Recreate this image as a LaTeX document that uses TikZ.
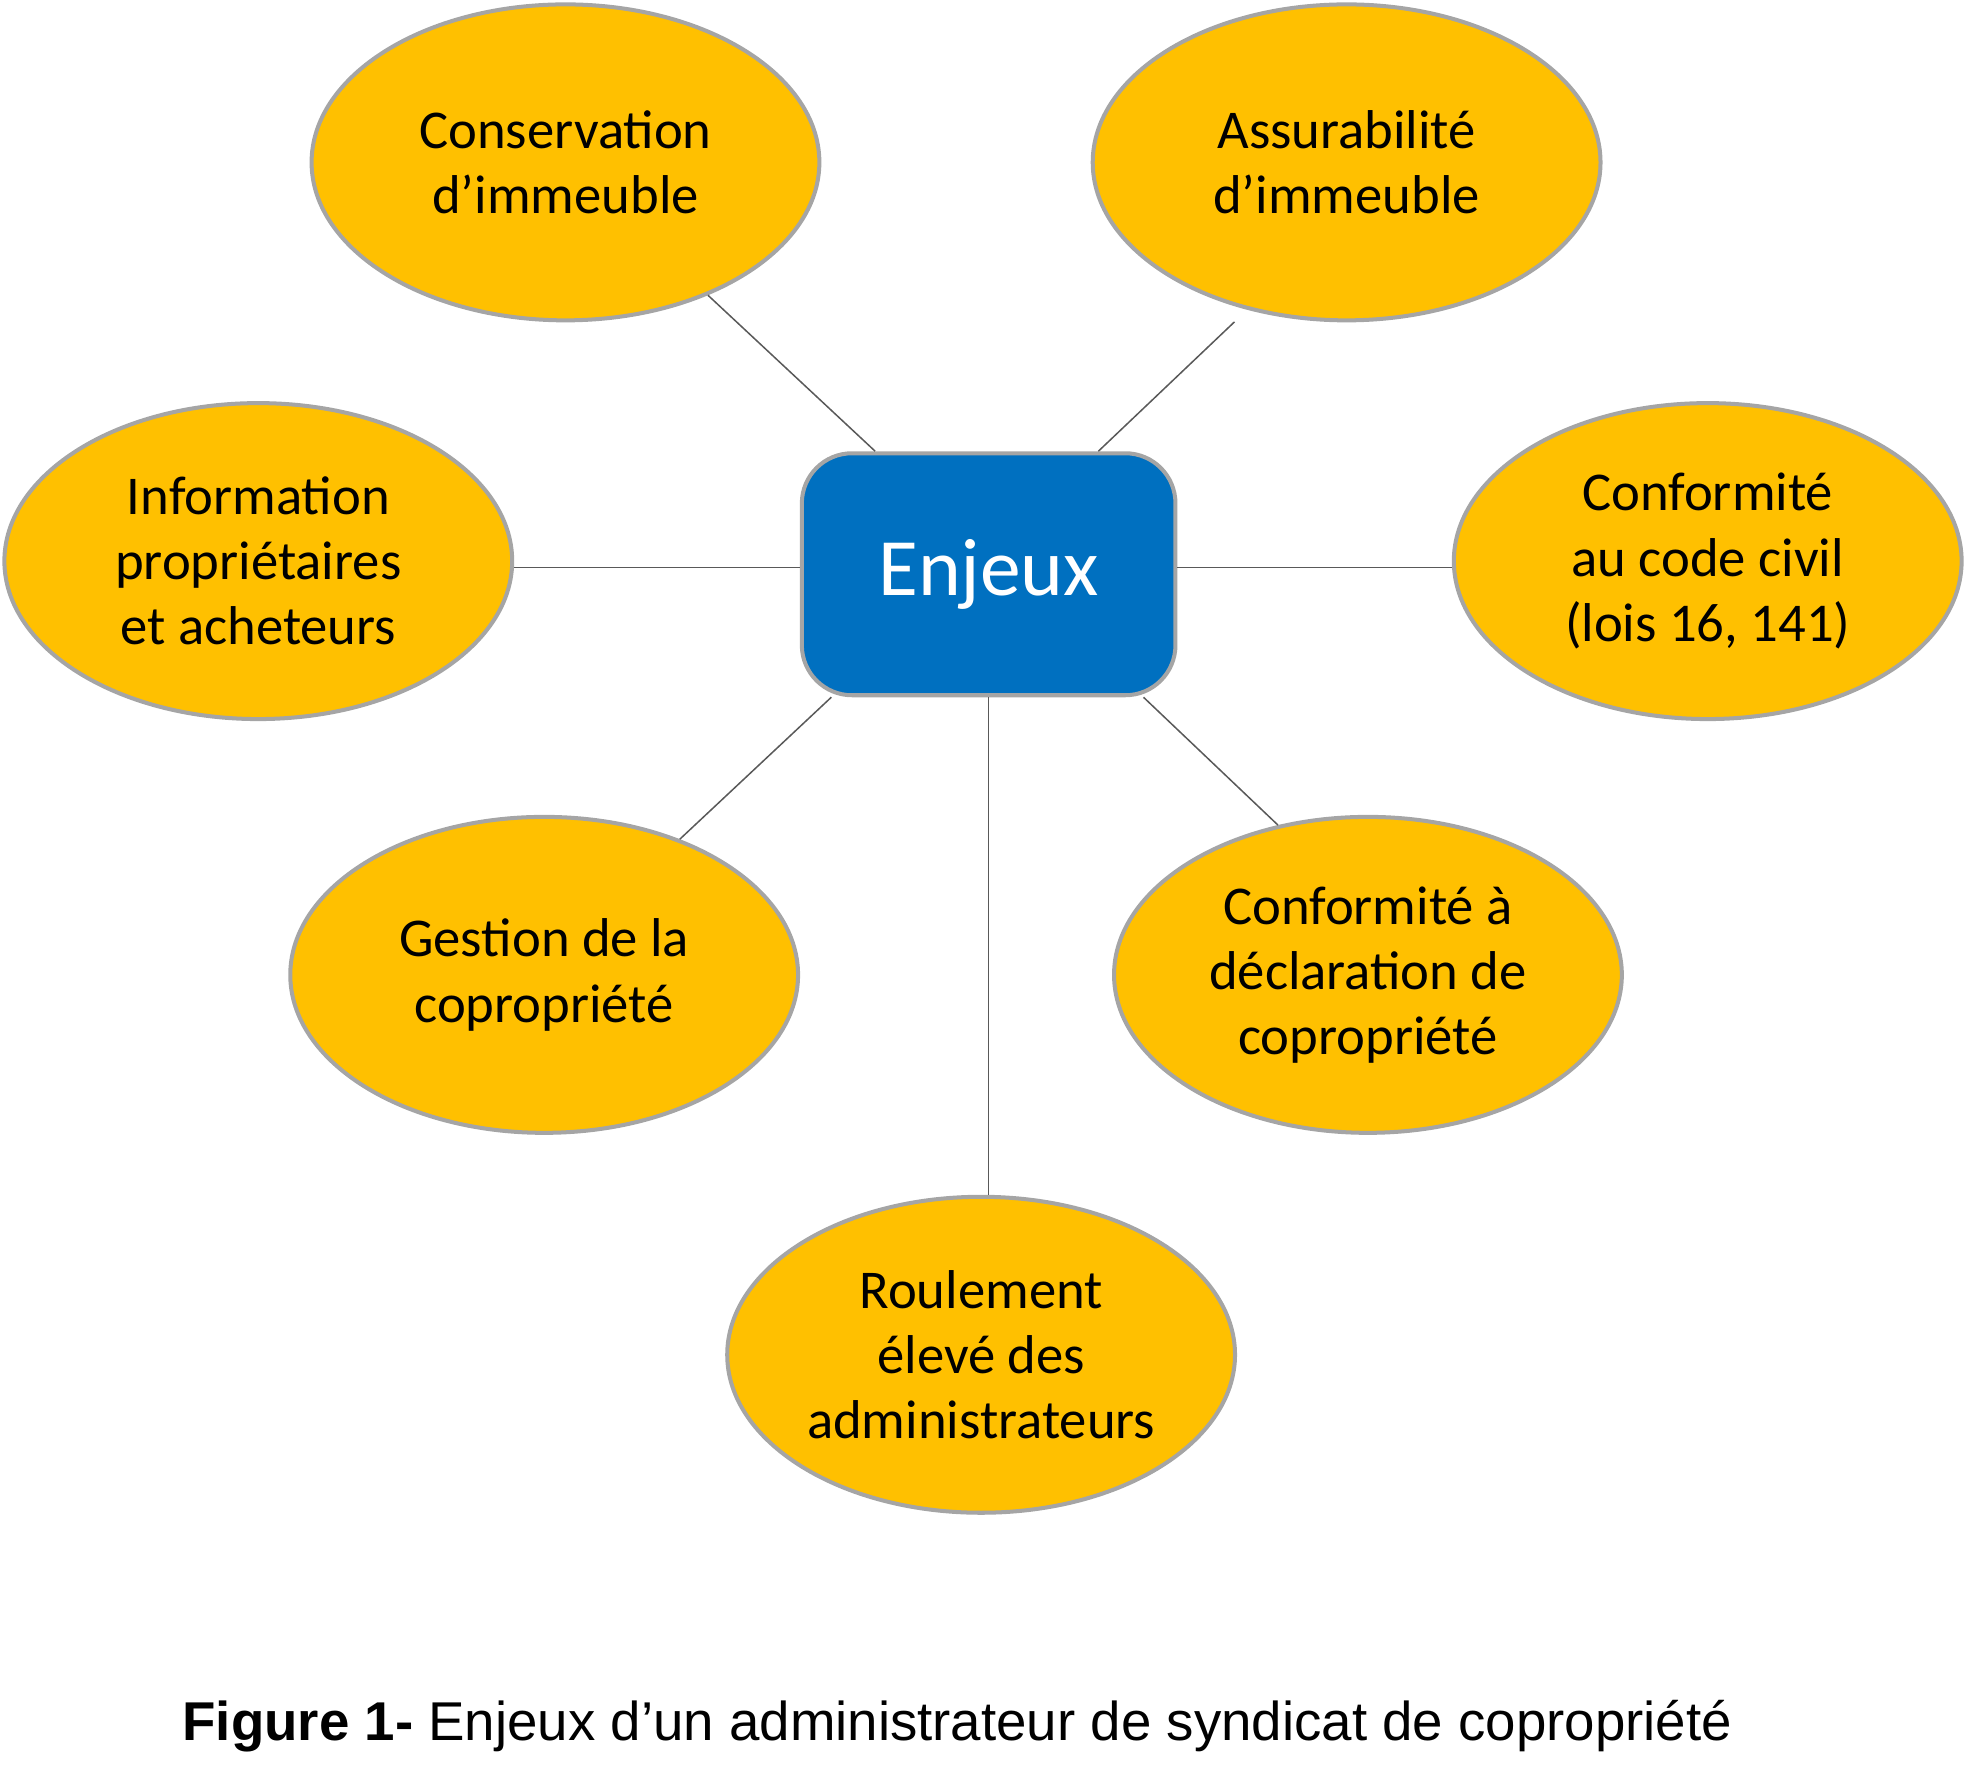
\documentclass[tikz,border=0pt]{standalone}
\usepackage{fontspec}
\setmainfont{Carlito}
\newfontfamily\capfont{Liberation Sans}
\usetikzlibrary{shapes.geometric}
\definecolor{issueyellow}{HTML}{FFC000}
\definecolor{hubblue}{HTML}{0070C0}
\definecolor{bordergray}{HTML}{A5A5A5}
\definecolor{linkgray}{HTML}{595959}

\begin{document}
\begin{tikzpicture}[x=0.5pt, y=-0.5pt,
	issue/.style={ellipse, draw=bordergray, line width=1.6pt, fill=issueyellow,
		minimum width=202.5pt, minimum height=126pt, inner sep=0pt, align=center,
		font=\fontsize{21.8}{26}\selectfont},
	hub/.style={rectangle, rounded corners=20pt, draw=bordergray, line width=1.6pt,
		fill=hubblue, text=white, minimum width=149pt, minimum height=96.5pt,
		font=\fontsize{32.5}{39}\selectfont},
	link/.style={draw=linkgray, line width=0.6pt}]
				\useasboundingbox (0,0) rectangle (1568,1428.4);
				% centre
				\node[hub] (enjeux) at (788.5,458) {\raisebox{-2pt}{Enjeux}};
				% issues
				\node[issue] (conservation) at (451,129.5)  {Conservation\\d’immeuble};
				\node[issue] (assurabilite) at (1074,129.5) {Assurabilité\\d’immeuble};
				\node[issue] (information)  at (206,447.5)  {Information\\propriétaires\\et acheteurs};
				\node[issue] (civil)        at (1362,447.5) {Conformité\\au code civil\\(lois 16, 141)};
				\node[issue] (gestion)      at (434,777.5)  {Gestion de la\\copropriété};
				\node[issue] (declaration)  at (1091,777.5) {Conformité à\\déclaration de\\copropriété};
				\node[issue] (roulement)    at (782.5,1080.5) {Roulement\\élevé des\\administrateurs};
				% links
				\draw[link] ([xshift=-45.25pt]enjeux.north) -- (conservation.-43);
				\draw[link, shorten >=7pt] ([xshift=43.75pt]enjeux.north) -- (assurabilite.-124);
				\draw[link] ([yshift=-2.5pt]information.east) -- ([yshift=-2.5pt]information.east -| enjeux.west);
				\draw[link] ([yshift=-2.5pt]civil.west -| enjeux.east) -- ([yshift=-2.5pt]civil.west);
				\draw[link] ([xshift=-62.75pt]enjeux.south) -- (gestion.45);
				\draw[link] ([xshift=61.75pt]enjeux.south) -- (declaration.121);
				\draw[link] (enjeux.south) -- (enjeux.south |- roulement.north);
				% caption
				\node[font=\capfont\fontsize{21.8}{26}\selectfont] (caption) at (763.5,1377)
					{\textbf{Figure 1-} Enjeux d’un administrateur de syndicat de copropriété};
\end{tikzpicture}
\end{document}
